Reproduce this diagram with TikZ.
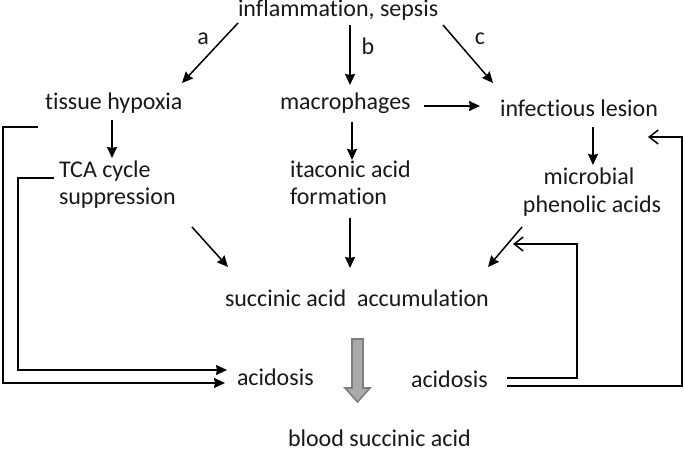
\documentclass[tikz,border=0pt]{standalone}
\usepackage{fontspec}
\setmainfont{Carlito}[Ligatures={NoCommon,NoContextual}]
\usetikzlibrary{arrows.meta,calc}
\begin{document}
\begin{tikzpicture}[x=1bp,y=-1bp,
  lbl/.style={inner sep=0pt,outer sep=0pt,text={rgb,255:red,25;green,25;blue,25},font=\fontsize{24bp}{28bp}\selectfont},
  arr/.style={line width=1.5bp,-{Stealth[length=11bp,width=10bp,inset=1bp]}},
  openarr/.style={line width=1.5bp,-{Straight Barb[length=9bp,width=14bp,line width=1.5bp]}},
  bigarrow/.style={draw={rgb,255:red,125;green,125;blue,125},fill={rgb,255:red,170;green,170;blue,170},line width=1.6bp,line join=miter}]
\useasboundingbox[fill=white] (0,0) rectangle (685,451);
% nodes
\node[lbl,anchor=base west] (infl) at (238,17) {inflammation, sepsis};
\node[lbl,anchor=base] (la) at (203,45) {a};
\node[lbl,anchor=base] (lb) at (368,55) {b};
\node[lbl,anchor=base] (lc) at (480,45) {c};
\node[lbl,anchor=base west] (hyp) at (45,110) {tissue hypoxia};
\node[lbl,anchor=base west] (mac) at (280,110) {macrophages};
\node[lbl,anchor=base west] (inf) at (500,117) {infectious lesion};
\node[lbl,anchor=base west] (tca) at (59,178) {TCA cycle};
\node[lbl,anchor=base west] (tcab) at (59,205) {suppression};
\node[lbl,anchor=base west] (ita) at (290,178) {itaconic acid};
\node[lbl,anchor=base west] (itab) at (290,205) {formation};
\node[lbl,anchor=base] (mic) at (589,185) {microbial};
\node[lbl,anchor=base] (micb) at (592,213) {phenolic acids};
\node[lbl,anchor=base west] (succ) at (225,307) {succinic acid~ accumulation};
\node[lbl,anchor=base west] (acl) at (237,385) {acidosis};
\node[lbl,anchor=base west] (acr) at (411,387) {acidosis};
\node[lbl,anchor=base west] (blood) at (288,446) {blood succinic acid};
% arrows from inflammation
\draw[arr] ($(infl.base west)+(0,6)$) -- ($(hyp.base west)+(137,-27)$);
\draw[arr] ($(infl.base west)+(112,8)$) -- ($(mac.base west)+(70,-25)$);
\draw[arr] ($(infl.base west)+(205,8)$) -- ($(inf.base west)+(-7,-34)$);
\draw[arr] ($(mac.base west)+(144,-4)$) -- ($(inf.base west)+(-20,-11)$);
% downward arrows
\draw[arr] ($(hyp.base west)+(67,10)$) -- ($(tca.base west)+(53,-20)$);
\draw[arr] ($(mac.base west)+(72,12)$) -- ($(ita.base west)+(62,-18)$);
\draw[arr] ($(inf.base west)+(93,10)$) -- ($(mic.base)+(4,-20)$);
\draw[arr] ($(tcab.base west)+(133,22)$) -- ($(succ.base west)+(3,-40)$);
\draw[arr] ($(itab.base west)+(60,13)$) -- ($(succ.base west)+(125,-39)$);
\draw[arr] ($(micb.base)+(-70,14)$) -- ($(succ.base west)+(263,-40)$);
% left feedback lines
\draw[arr] ($(hyp.base west)+(-7,17)$) -- ++(-35,0) |- ($(acl.base west)+(-12,-2)$);
\draw[arr] ($(tca.base west)+(-5,0)$) -- ++(-36,0) |- ($(acl.base west)+(-10,-15)$);
% right feedback lines
\draw[openarr] ($(acr.base west)+(96,-9)$) -- ++(70,0) |- ($(micb.base)+(-79,31)$);
\draw[openarr] ($(acr.base west)+(96,-1)$) -- ++(175,0) |- ($(inf.base west)+(148,20)$);
% big gray arrow
\draw[bigarrow] (352,339) -- (363,339) -- (363,388) -- (370,388) -- (357.5,402) -- (345,388) -- (352,388) -- cycle;
\end{tikzpicture}
\end{document}
